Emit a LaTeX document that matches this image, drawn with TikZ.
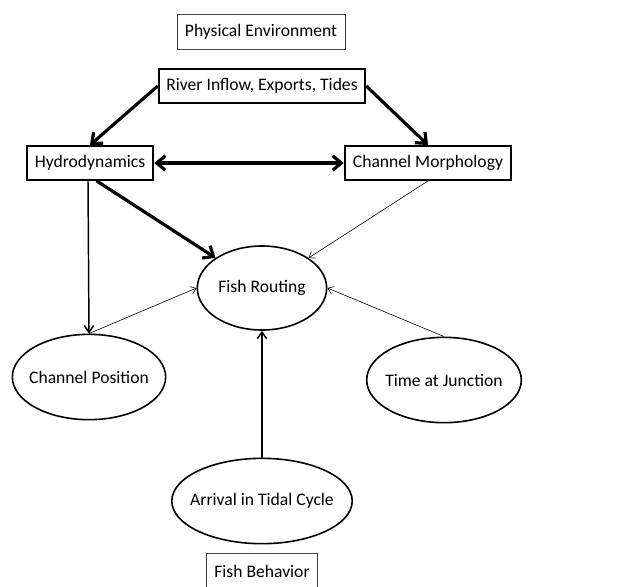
\documentclass[tikz,border=0pt]{standalone}
\usepackage{fontspec}
\setmainfont{Carlito}
\usetikzlibrary{arrows.meta,shapes}

\begin{document}
\begin{tikzpicture}[x=0.75pt,y=-0.75pt,auto,
                    font=\fontsize{13.2}{15}\selectfont]
  \tikzstyle{group box}=[draw=black!75,line width=0.7pt,minimum height=26pt,inner sep=2pt]
  \tikzstyle{factor}=[draw,line width=1.4pt,minimum height=25.5pt,inner sep=2pt]
  \tikzstyle{oval}=[ellipse,draw,line width=1.2pt,inner xsep=-6pt,inner ysep=0pt,minimum height=64pt]
  \tikzstyle{strong}=[-{Straight Barb[length=6.5pt,width=11pt]},line width=2.4pt]
  \tikzstyle{medium}=[-{Straight Barb[length=5pt,width=7pt]},line width=1.1pt]
  \tikzstyle{weak}=[-{Straight Barb[length=4pt,width=6pt]},line width=0.45pt]

  \useasboundingbox (0,0) rectangle (634,586);

  \node[group box, minimum width=126pt] (PE) at (261,32) {Physical Environment};
  \node[factor, minimum width=155pt]    (RI) at (262,86) {River Inflow, Exports, Tides};
  \node[factor, minimum width=95pt]     (HD) at (90,163) {Hydrodynamics};
  \node[factor, minimum width=125pt]    (CM) at (428,163) {Channel Morphology};

  \node[oval, minimum width=97pt, minimum height=63pt] (FR) at (262,288) {Fish Routing};
  \node[oval, minimum width=115pt] (CP) at (89,377)  {Channel Position};
  \node[oval, minimum width=116pt] (TJ) at (444,380) {Time at Junction};
  \node[oval, minimum width=135pt] (AT) at (262,501) {Arrival in Tidal Cycle};
  \node[group box, minimum width=83pt] (FB) at (262,571) {Fish Behavior};

  \draw[strong] (RI.west) -- (HD.north);
  \draw[strong] (RI.east) -- (CM.north);
  \draw[strong, {Straight Barb[length=6.5pt,width=11pt]}-{Straight Barb[length=6.5pt,width=11pt]}] (HD) -- (CM);
  \draw[strong] ([xshift=5pt]HD.south) -- (FR);
  \draw[medium] ([xshift=-1.5pt]HD.south) -- (CP.north);
  \draw[weak] (CP.north) -- (FR.west);
  \draw[weak] (CM.south) -- (FR);
  \draw[weak] (TJ.north) -- (FR.east);
  \draw[medium] (AT.north) -- (FR.south);
\end{tikzpicture}
\end{document}
